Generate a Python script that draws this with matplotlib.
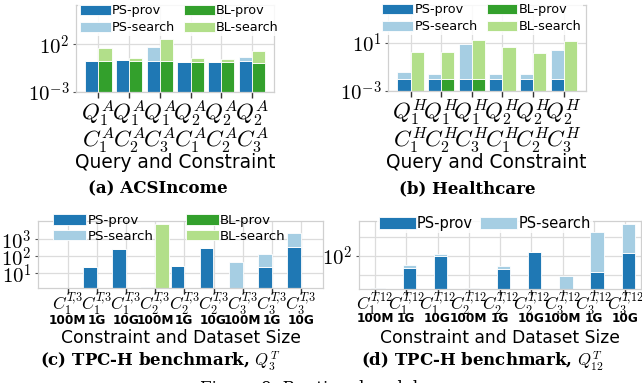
import numpy as np
import matplotlib

matplotlib.use("Agg")
import matplotlib.pyplot as plt
from matplotlib import transforms

W, H = 642, 383
plt.rcParams["mathtext.fontset"] = "cm"
plt.rcParams["font.family"] = ["DejaVu Sans"]

C_PS_PROV, C_PS_SEARCH = "#1f78b4", "#a6cee3"
C_BL_PROV, C_BL_SEARCH = "#33a02c", "#b2df8a"
GRID = "#dcdcdc"

# ---- (a) ACSIncome ----
acs_queries = ["$Q_1^A$", "$Q_1^A$", "$Q_1^A$", "$Q_2^A$", "$Q_2^A$", "$Q_2^A$"]
acs_constraints = ["$C_1^A$", "$C_2^A$", "$C_3^A$", "$C_1^A$", "$C_2^A$", "$C_3^A$"]
acs_ps_prov = [1.9, 2.2, 1.9, 1.4, 1.5, 1.6]
acs_ps_search = [0, 0, 57, 0, 0, 2.8]
acs_bl_prov = [1.8, 1.9, 1.9, 1.45, 1.4, 1.15]
acs_bl_search = [38, 1.7, 353, 2.15, 1.7, 21]

# ---- (b) Healthcare ----
hc_queries = ["$Q_1^H$", "$Q_1^H$", "$Q_1^H$", "$Q_2^H$", "$Q_2^H$", "$Q_2^H$"]
hc_constraints = ["$C_1^H$", "$C_2^H$", "$C_3^H$", "$C_1^H$", "$C_2^H$", "$C_3^H$"]
hc_ps_prov = [0.0087, 0.0087, 0.0087, 0.0087, 0.0087, 0.0087]
hc_ps_search = [0.026, 0.016, 8.0, 0.016, 0.016, 2.5]
hc_bl_prov = [0, 0.0087, 0.0087, 0, 0, 0]
hc_bl_search = [1.7, 1.6, 17, 4.3, 1.3, 14]

# ---- (c) TPC-H Q3 ----
t3_constraints = [r"$C_1^{T\!,\!3}$"] * 3 + [r"$C_2^{T\!,\!3}$"] * 3 + [r"$C_3^{T\!,\!3}$"] * 3
t3_sizes = ["100M", "1G", "10G"] * 3
t3_ps_prov = [0, 22.5, 258, 0, 26, 295, 0, 24.5, 340]
t3_ps_search = [0, 0, 0, 1.5, 0, 0, 48, 120, 2100]
t3_bl_prov = [0, 0, 0, 0, 0, 0, 0, 0, 0]
t3_bl_search = [0, 0, 0, 7600, 0, 0, 0, 0, 0]

# ---- (d) TPC-H Q12 ----
t12_constraints = ([r"$C_1^{T\!,\!12}$"] * 3 + [r"$C_2^{T\!,\!12}$"] * 3
                   + [r"$C_3^{T\!,\!12}$"] * 3)
t12_sizes = ["100M", "1G", "10G"] * 3
t12_ps_prov = [0, 22.5, 100, 0, 20.7, 157, 0, 14.8, 149]
t12_ps_search = [2.2, 11, 23, 2.1, 8, 0, 8.9, 1765, 4500]

LEG = dict(handleheight=0.85, handletextpad=0.1, borderpad=0.15, edgecolor="none",
           framealpha=0.85, borderaxespad=0)


def px_axes(left, top, right, bottom):
    return [left / W, 1 - bottom / H, (right - left) / W, (bottom - top) / H]


def stacked(ax, x, prov, search, width, colors, labels):
    prov = np.asarray(prov, float)
    search = np.asarray(search, float)
    ax.bar(x, prov, width, color=colors[0], edgecolor="white", linewidth=0.6, label=labels[0])
    ax.bar(x, search, width, bottom=prov, color=colors[1], edgecolor="white",
           linewidth=0.6, label=labels[1])


def style(ax, ysize=15):
    ax.set_yscale("log")
    ax.set_axisbelow(True)
    ax.grid(True, which="major", color=GRID, lw=0.9)
    for s in ax.spines.values():
        s.set_color("#d0d0d0")
        s.set_linewidth(0.9)
    ax.tick_params(axis="x", length=4.5, width=1.0, color="#333333", labelbottom=False)
    ax.tick_params(axis="y", which="major", length=2.5, width=0.8, color="#555555",
                   labelsize=ysize, pad=2.2)
    ax.tick_params(axis="y", which="minor", length=0)


def rows(fig, ax, first, second, y1, y2, size1, size2, bold2=False):
    tr = transforms.blended_transform_factory(ax.transData, fig.transFigure)
    for i, (a, b) in enumerate(zip(first, second)):
        ax.text(i, 1 - y1 / H, a, transform=tr, ha="center", va="center", fontsize=size1)
        ax.text(i, 1 - y2 / H, b, transform=tr, ha="center", va="center", fontsize=size2,
                fontweight="bold" if bold2 else "normal")


def legend_at(ax, fig, left_px, top_px, ncol, fontsize, hlen, colsp, lsp, frame=True):
    return ax.legend(loc="upper left", bbox_to_anchor=(left_px / W, 1 - top_px / H),
                     bbox_transform=fig.transFigure, ncol=ncol, fontsize=fontsize,
                     handlelength=hlen, columnspacing=colsp, labelspacing=lsp,
                     frameon=frame, **LEG)


fig = plt.figure(figsize=(W / 100, H / 100), dpi=100)

# (a)
ax = fig.add_axes(px_axes(76, 5, 274, 91.5))
style(ax)
x = np.arange(len(acs_queries))
w = 0.43
stacked(ax, x - w / 2, acs_ps_prov, acs_ps_search, w, (C_PS_PROV, C_PS_SEARCH), ("PS-prov", "PS-search"))
stacked(ax, x + w / 2, acs_bl_prov, acs_bl_search, w, (C_BL_PROV, C_BL_SEARCH), ("BL-prov", "BL-search"))
ax.set_xticks(x)
ax.set_xlim(-0.73, 5.72)
ax.set_ylim(1e-3, 10 ** 6.2)
ax.set_yticks([1e-3, 1e2])
ax.set_yticklabels(["$10^{-3}$", "$10^{2}$"])
ax.minorticks_off()
legend_at(ax, fig, 78, 2.5, 2, 9.2, 2.4, 0.7, 0.3)
rows(fig, ax, acs_queries, acs_constraints, 113, 140, 16.5, 16.5)
fig.text(175 / W, 1 - 162 / H, "Query and Constraint", ha="center", va="center", fontsize=13.4)
fig.text(158 / W, 1 - 189 / H, "(a) ACSIncome", ha="center", va="center", fontsize=12,
         family="DejaVu Serif", fontweight="bold")

# (b)
ax = fig.add_axes(px_axes(388.3, 5, 585.7, 90.7))
style(ax)
x = np.arange(len(hc_queries))
stacked(ax, x - w / 2, hc_ps_prov, hc_ps_search, w, (C_PS_PROV, C_PS_SEARCH), ("PS-prov", "PS-search"))
stacked(ax, x + w / 2, hc_bl_prov, hc_bl_search, w, (C_BL_PROV, C_BL_SEARCH), ("BL-prov", "BL-search"))
ax.set_xticks(x)
ax.set_xlim(-0.73, 5.72)
ax.set_ylim(1e-3, 10 ** 4.17)
ax.set_yticks([1e-3, 1e1])
ax.set_yticklabels(["$10^{-3}$", "$10^{1}$"])
ax.minorticks_off()
legend_at(ax, fig, 380.5, 1.5, 2, 9.2, 2.4, 0.7, 0.3)
rows(fig, ax, hc_queries, hc_constraints, 112.5, 141, 16.5, 16.5)
fig.text(486 / W, 1 - 162 / H, "Query and Constraint", ha="center", va="center", fontsize=13.4)
fig.text(467.5 / W, 1 - 189 / H, "(b) Healthcare", ha="center", va="center", fontsize=12,
         family="DejaVu Serif", fontweight="bold")

# (c)
ax = fig.add_axes(px_axes(38.3, 220.7, 323, 288.3))
style(ax)
x = np.arange(len(t3_sizes))
w = 0.47
stacked(ax, x - w / 2, t3_ps_prov, t3_ps_search, w, (C_PS_PROV, C_PS_SEARCH), ("PS-prov", "PS-search"))
stacked(ax, x + w / 2, t3_bl_prov, t3_bl_search, w, (C_BL_PROV, C_BL_SEARCH), ("BL-prov", "BL-search"))
ax.set_xticks(x)
ax.set_xlim(-1.0, 8.75)
ax.set_ylim(1.32, 1.23e4)
ax.set_yticks([10, 100, 1000])
ax.set_yticklabels(["$10^{1}$", "$10^{2}$", "$10^{3}$"])
ax.yaxis.set_minor_locator(matplotlib.ticker.LogLocator(subs=np.arange(2, 10)))
ax.yaxis.set_minor_formatter(matplotlib.ticker.NullFormatter())
ax.tick_params(axis="y", which="minor", length=1.8, width=0.6, color="#555555")
legend_at(ax, fig, 51, 212, 2, 9.6, 2.5, 2.4, 0.2, frame=False)
rows(fig, ax, t3_constraints, t3_sizes, 304, 320, 12.5, 8.7, bold2=True)
fig.text(180.6 / W, 1 - 338 / H, "Constraint and Dataset Size", ha="center", va="center",
         fontsize=12.3)
fig.text(160.5 / W, 1 - 361 / H, "(c) TPC-H benchmark, $Q_3^T$", ha="center", va="center",
         fontsize=12, family="DejaVu Serif", fontweight="bold")

# (d)
ax = fig.add_axes(px_axes(359.3, 221, 641, 289.3))
style(ax)
x = np.arange(len(t12_sizes))
w = 0.43
stacked(ax, x + 0.1, t12_ps_prov, t12_ps_search, w, (C_PS_PROV, C_PS_SEARCH), ("PS-prov", "PS-search"))
ax.set_xticks(x)
ax.set_xlim(-0.5, 8.5)
ax.set_ylim(1.8, 6900)
ax.set_yticks([100])
ax.set_yticklabels(["$10^{2}$"])
ax.set_yticks([10, 1000], minor=True)
ax.yaxis.set_minor_formatter(matplotlib.ticker.NullFormatter())
ax.grid(True, which="minor", axis="y", color=GRID, lw=0.9)
legend_at(ax, fig, 377, 214, 2, 10.5, 2.5, 0.5, 0.2)
rows(fig, ax, t12_constraints, t12_sizes, 304, 319, 12.5, 8.7, bold2=True)
fig.text(500 / W, 1 - 338 / H, "Constraint and Dataset Size", ha="center", va="center",
         fontsize=12.3)
fig.text(482.5 / W, 1 - 361 / H, "(d) TPC-H benchmark, $Q_{12}^T$", ha="center", va="center",
         fontsize=12, family="DejaVu Serif", fontweight="bold")

# page caption, only its top edge shows at the bottom border
fig.text(200 / W, 1 - 393 / H, "Figure 9: Runtime breakdown", ha="left", va="baseline",
         fontsize=12, family="DejaVu Serif")

fig.savefig("out.png", dpi=100)
